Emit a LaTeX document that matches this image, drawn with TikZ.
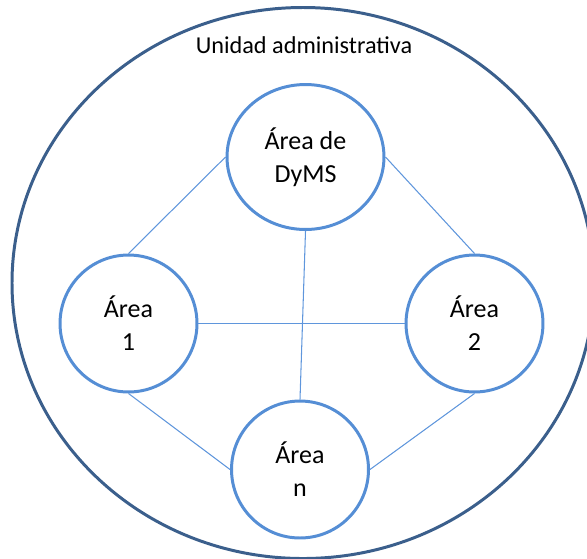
\documentclass[tikz,border=0pt]{standalone}
\usepackage{fontspec}
\setmainfont{Carlito}
\usetikzlibrary{shapes.geometric}
\definecolor{outerblue}{RGB}{59,95,140}
\definecolor{areablue}{RGB}{85,142,213}
\definecolor{linkblue}{RGB}{95,150,220}
\tikzset{%
  area/.style={circle, draw=areablue, line width=1.7pt, fill=white,
               minimum size=2.74cm, inner sep=0pt, align=center,
               font=\fontsize{14.8}{18.7}\selectfont},
  link/.style={draw=linkblue, line width=0.6pt},
}

\begin{document}
\begin{tikzpicture}[x=0.02cm, y=-0.02cm]

\useasboundingbox (0,0) rectangle (587,558);
\clip (0,0) rectangle (587,558);

% Draw the outer unit
\draw[outerblue, line width=1.7pt] (303,283) ellipse [x radius=291, y radius=275.5];
\node[anchor=base, font=\fontsize{13.8}{16}\selectfont] (unit) at (304,53) {Unidad administrativa};

% the areas
\node[area, ellipse, minimum width=3.14cm, minimum height=2.9cm] (dyms) at (305.5,157) {\'Area de\\ DyMS};
\node[area] (area1) at (128.5,323.5) {\'Area\\ 1};
\node[area] (area2) at (474.5,323.5) {\'Area\\ 2};
\node[area] (arean) at (300,469.5) {\'Area\\ n};

%draw links between areas
\draw[link] (dyms.west) -- (area1.north);
\draw[link] (dyms.east) -- (area2.north);
\draw[link] (dyms.south) -- (arean.north);
\draw[link] (area1.east) -- (area2.west);
\draw[link] (area1.south) -- (arean.west);
\draw[link] (area2.south) -- (arean.east);

\end{tikzpicture}
\end{document}
